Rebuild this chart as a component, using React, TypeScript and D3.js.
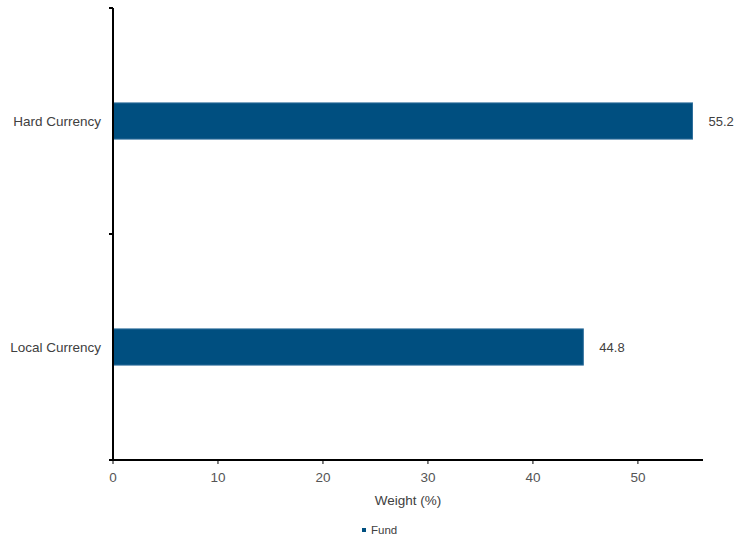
import React from "react";
import * as d3 from "d3";

const categories = ["Hard Currency", "Local Currency"];
const fundValues = [55.2, 44.8];
const xTicks = [0, 10, 20, 30, 40, 50];
const seriesName = "Fund";
const xLabel = "Weight (%)";

const W = 748, H = 538;
const margin = { left: 113, top: 8, right: 45, bottom: 78 };
const font = "'Liberation Sans', Arial, sans-serif";

export default function App() {
  const x = d3.scaleLinear().domain([0, 56.2]).range([margin.left, W - margin.right]);
  const y = d3.scaleBand().domain(categories).range([margin.top, H - margin.bottom]).paddingInner(0.84).paddingOuter(0.42);
  const band = d3.scaleBand().domain(categories).range([margin.top, H - margin.bottom]);
  const axisY = H - margin.bottom;
  const data = categories.map((c, i) => ({ c, v: fundValues[i] }));
  return (
    <svg width={W} height={H} style={{ position: "absolute", left: 0, top: 0, background: "#fff" }}>
      {data.map((d) => (
        <g key={d.c}>
          <rect x={x(0)} y={y(d.c)} width={x(d.v) - x(0)} height={y.bandwidth()} fill="#004f80" stroke="#2f6f9c" strokeWidth={1} />
          <text x={x(d.v) + 16} y={y(d.c)! + y.bandwidth() / 2} dy="0.35em" fontFamily={font} fontSize={13} fill="#404040">{d.v.toFixed(1)}</text>
          <text x={margin.left - 12} y={band(d.c)! + band.bandwidth() / 2} dy="0.35em" textAnchor="end" fontFamily={font} fontSize={13.5} fill="#404040">{d.c}</text>
        </g>
      ))}
      {/* y axis */}
      <line x1={margin.left} x2={margin.left} y1={margin.top} y2={axisY} stroke="#000" strokeWidth={2} />
      {[...categories.map((c) => band(c)!), axisY].map((t, i) => (
        <line key={i} x1={margin.left - 4} x2={margin.left} y1={t} y2={t} stroke="#000" strokeWidth={2} />
      ))}
      {/* x axis */}
      <line x1={margin.left - 4} x2={W - margin.right} y1={axisY} y2={axisY} stroke="#000" strokeWidth={2} />
      {xTicks.map((t) => (
        <g key={t}>
          <line x1={x(t)} x2={x(t)} y1={axisY} y2={axisY + 4} stroke="#000" strokeWidth={1} />
          <text x={x(t)} y={axisY + 22} textAnchor="middle" fontFamily={font} fontSize={13.5} fill="#555">{t}</text>
        </g>
      ))}
      <text x={(margin.left + W - margin.right) / 2} y={axisY + 45} textAnchor="middle" fontFamily={font} fontSize={13.5} fill="#404040">{xLabel}</text>
      <rect x={362} y={528} width={4} height={4} fill="#004f80" />
      <text x={371} y={530} dy="0.35em" fontFamily={font} fontSize={11.5} fill="#404040">{seriesName}</text>
    </svg>
  );
}
